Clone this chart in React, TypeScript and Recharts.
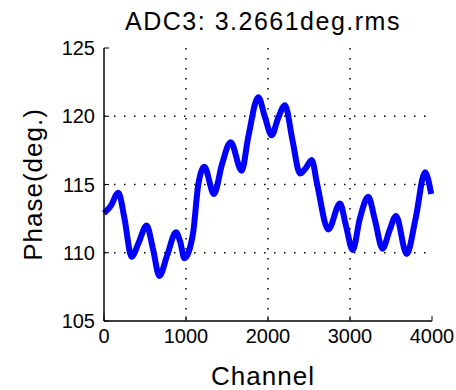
import { LineChart, Line, XAxis, YAxis, CartesianGrid } from 'recharts';

// Phase vs channel
const channels = [
  0, 80, 175, 250, 337, 420, 520, 600, 675, 770, 878, 930, 980, 1085, 1150, 1224,
  1341, 1440, 1545, 1679, 1760, 1882, 1960, 2045, 2120, 2207, 2300, 2390, 2460, 2533,
  2600, 2735, 2878, 2950, 3033, 3120, 3223, 3300, 3398, 3480, 3561, 3691, 3800, 3915, 3990,
];
const phase = [
  112.9, 113.4, 114.4, 112.5, 109.7, 110.7, 112.0, 110.2, 108.3, 109.8, 111.5, 110.8, 109.6, 111.4, 115.0, 116.3,
  114.3, 116.5, 118.1, 116.0, 118.5, 121.4, 120.0, 118.6, 119.8, 120.8, 118.2, 115.8, 116.2, 116.8,
  115.0, 111.7, 113.6, 112.0, 110.2, 112.5, 114.1, 112.5, 110.3, 111.6, 112.7, 109.9, 112.5, 115.9, 114.3,
];
const xTicks = [0, 1000, 2000, 3000, 4000];
const yTicks = [105, 110, 115, 120, 125];

const title = 'ADC3: 3.2661deg.rms';
const xLabel = 'Channel';
const yLabel = 'Phase(deg.)';

const data = channels.map((c, i) => ({ channel: c, phase: phase[i] }));

const font = '"Liberation Sans", Arial, sans-serif';
const tickStyle = { fontSize: 20, fill: '#000', fontFamily: font };
const noTick = () => <g />;

export default function App() {
  return (
    <div style={{ position: 'absolute', left: 0, top: 0, width: 456, height: 390, background: '#fff' }}>
      <div
        style={{
          position: 'absolute',
          top: 9,
          left: 0,
          width: 526,
          textAlign: 'center',
          fontFamily: font,
          fontSize: 25,
          lineHeight: '24px',
          letterSpacing: 1.5,
          color: '#000',
        }}
      >
        {title}
      </div>
      <LineChart
        width={456}
        height={390}
        data={data}
        margin={{ top: 48, right: 24, bottom: 0, left: 0 }}
      >
        <CartesianGrid
          stroke="#000"
          strokeWidth={1.5}
          strokeDasharray="1.5 8.5"
          horizontalValues={[110, 115, 120]}
          verticalValues={[1000, 2000, 3000]}
        />
        <XAxis
          dataKey="channel"
          type="number"
          domain={[0, 4000]}
          ticks={xTicks}
          height={69}
          tickSize={-5}
          tickMargin={13}
          interval={0}
          axisLine={{ stroke: '#000', strokeWidth: 1.5 }}
          tickLine={{ stroke: '#000' }}
          tick={tickStyle}
          label={{ value: xLabel, position: 'insideBottom', offset: 5, dx: -5, style: { fontSize: 26, fontFamily: font, fill: '#000', letterSpacing: 1 } }}
        />
        <XAxis
          xAxisId="top"
          orientation="top"
          dataKey="channel"
          type="number"
          domain={[0, 4000]}
          ticks={xTicks}
          height={0}
          tickSize={-5}
          axisLine={{ stroke: '#000', strokeWidth: 1.5 }}
          tickLine={{ stroke: '#000' }}
          tick={noTick}
        />
        <YAxis
          type="number"
          domain={[105, 125]}
          ticks={yTicks}
          width={104}
          tickSize={-5}
          tickMargin={14}
          interval={0}
          axisLine={{ stroke: '#000', strokeWidth: 1.5 }}
          tickLine={{ stroke: '#000' }}
          tick={tickStyle}
          label={{ value: yLabel, angle: -90, position: 'insideLeft', offset: 33, style: { textAnchor: 'middle', fontSize: 26, fontFamily: font, fill: '#000', letterSpacing: 1 } }}
        />
        <YAxis
          yAxisId="right"
          orientation="right"
          type="number"
          domain={[105, 125]}
          ticks={yTicks}
          width={0}
          tickSize={-5}
          axisLine={{ stroke: '#000', strokeWidth: 1.5 }}
          tickLine={{ stroke: '#000' }}
          tick={noTick}
        />
        <Line
          dataKey="phase"
          type="monotone"
          stroke="#0000ff"
          strokeWidth={6}
          dot={false}
          isAnimationActive={false}
        />
      </LineChart>
    </div>
  );
}
